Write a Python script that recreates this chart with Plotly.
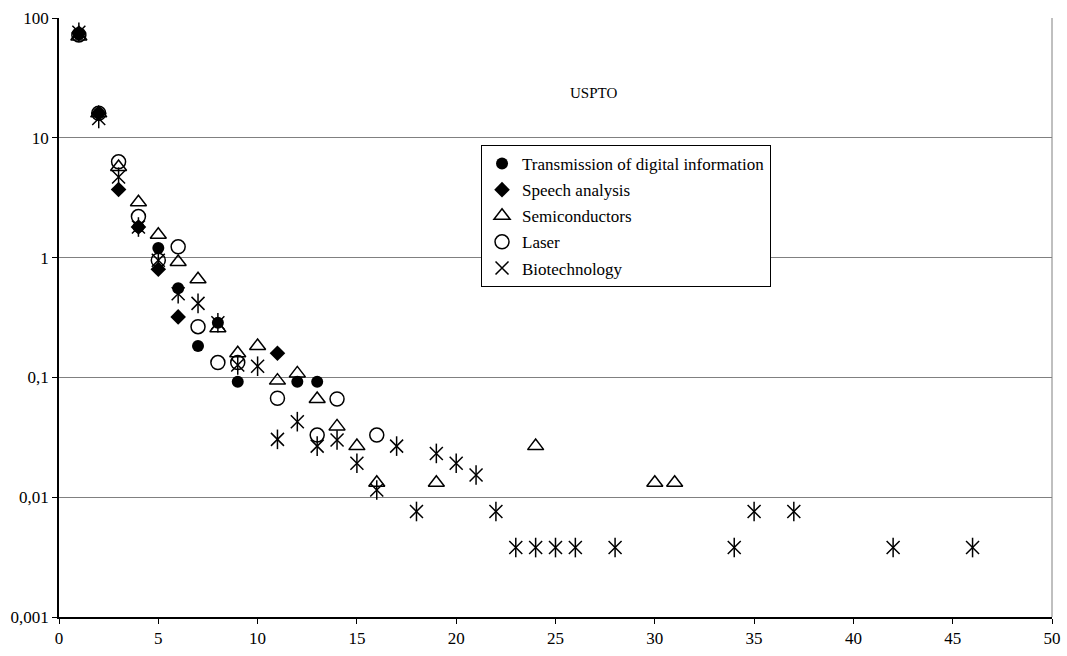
import plotly.graph_objects as go

# Share of patents (%) by rank, USPTO
x_transmission = [1, 2, 4, 5, 6, 7, 8, 9, 12, 13]
y_transmission = [73, 16, 1.8, 1.2, 0.555, 0.183, 0.286, 0.092, 0.092, 0.092]

x_speech = [1, 2, 3, 4, 5, 6, 11]
y_speech = [75, 16, 3.7, 1.8, 0.8, 0.32, 0.159]

x_semi = [1, 2, 3, 4, 5, 6, 7, 8, 9, 10, 11, 12, 13, 14, 15, 16, 19, 24, 30, 31]
y_semi = [70, 16, 5.7, 2.9, 1.55, 0.92, 0.66, 0.257, 0.159, 0.183, 0.094, 0.108,
          0.066, 0.039, 0.0267, 0.0132, 0.0132, 0.0267, 0.0132, 0.0132]

x_laser = [1, 2, 3, 4, 5, 6, 7, 8, 9, 11, 13, 14, 16]
y_laser = [72, 16, 6.3, 2.2, 0.95, 1.23, 0.265, 0.133, 0.133, 0.067, 0.033, 0.066, 0.033]

x_bio = [1, 2, 3, 4, 5, 6, 7, 8, 9, 10, 11, 12, 13, 14, 15, 16, 17, 18, 19, 20,
         21, 22, 23, 24, 25, 26, 28, 34, 35, 37, 42, 46]
y_bio = [76, 14.5, 4.7, 1.8, 0.95, 0.50, 0.415, 0.286, 0.127, 0.124, 0.0304, 0.0427,
         0.0267, 0.030, 0.0192, 0.0115, 0.0267, 0.0076, 0.0232, 0.0192, 0.0153,
         0.0076, 0.0038, 0.0038, 0.0038, 0.0038, 0.0038, 0.0038, 0.0076, 0.0076,
         0.0038, 0.0038]

y_tickvals = [0.001, 0.01, 0.1, 1, 10, 100]
y_ticktext = ["0,001", "0,01", "0,1", "1", "10", "100"]
x_tickvals = [0, 5, 10, 15, 20, 25, 30, 35, 40, 45, 50]

FONT = "Liberation Serif"
BLACK = "#000000"

fig = go.Figure()

fig.add_trace(go.Scatter(
    x=x_transmission, y=y_transmission, mode="markers",
    name="Transmission of digital information", legendgroup="g1",
    marker=dict(symbol="circle", size=12, color=BLACK, line=dict(width=0)),
))
fig.add_trace(go.Scatter(
    x=x_speech, y=y_speech, mode="markers",
    name="Speech analysis", legendgroup="g2",
    marker=dict(symbol="diamond", size=12, color=BLACK, line=dict(width=0)),
))
fig.add_trace(go.Scatter(
    x=x_semi, y=y_semi, mode="markers",
    name="Semiconductors", legendgroup="g3",
    marker=dict(symbol="triangle-up-open", size=14, color=BLACK, line=dict(width=1.5)),
))
fig.add_trace(go.Scatter(
    x=x_laser, y=y_laser, mode="markers",
    name="Laser", legendgroup="g4",
    marker=dict(symbol="circle-open", size=14, color=BLACK, line=dict(width=1.5)),
))
# six-armed star: an X plus a vertical stroke
fig.add_trace(go.Scatter(
    x=x_bio, y=y_bio, mode="markers",
    name="Biotechnology", legendgroup="g5",
    marker=dict(symbol="x-thin-open", size=13, color=BLACK, line=dict(width=1.5, color=BLACK)),
))
fig.add_trace(go.Scatter(
    x=x_bio, y=y_bio, mode="markers",
    name="Biotechnology", legendgroup="g5", showlegend=False,
    marker=dict(symbol="line-ns-open", size=14, color=BLACK, line=dict(width=1.5, color=BLACK)),
))

fig.update_layout(
    width=1067, height=656,
    margin=dict(l=59, r=15, t=18, b=39, autoexpand=False),
    paper_bgcolor="white", plot_bgcolor="white",
    font=dict(family=FONT, size=17, color=BLACK),
    showlegend=True,
    legend=dict(
        x=0.425, y=0.788, xanchor="left", yanchor="top",
        bgcolor="white", bordercolor=BLACK, borderwidth=1,
        font=dict(family=FONT, size=17, color=BLACK),
        tracegroupgap=1, itemclick=False,
    ),
    xaxis=dict(
        range=[0, 50], tickvals=x_tickvals, ticks="outside", ticklen=5,
        tickcolor=BLACK, showline=True, linecolor=BLACK, linewidth=1.5,
        showgrid=False, zeroline=False, automargin=False,
        tickfont=dict(family=FONT, size=17, color=BLACK),
    ),
    yaxis=dict(
        type="log", range=[-3, 2], tickvals=y_tickvals, ticktext=y_ticktext,
        ticks="outside", ticklen=5, tickcolor=BLACK,
        showline=True, linecolor=BLACK, linewidth=1.5, automargin=False,
        showgrid=True, gridcolor="#808080", gridwidth=1, zeroline=False,
        tickfont=dict(family=FONT, size=17, color=BLACK),
    ),
    shapes=[dict(type="line", xref="paper", yref="paper", x0=1, x1=1, y0=0, y1=1,
                 line=dict(color="#808080", width=1))],
    annotations=[dict(text="USPTO", x=0.538, y=0.891, xref="paper", yref="paper",
                      showarrow=False, font=dict(family=FONT, size=15, color=BLACK))],
)

fig.write_html("out.html")
